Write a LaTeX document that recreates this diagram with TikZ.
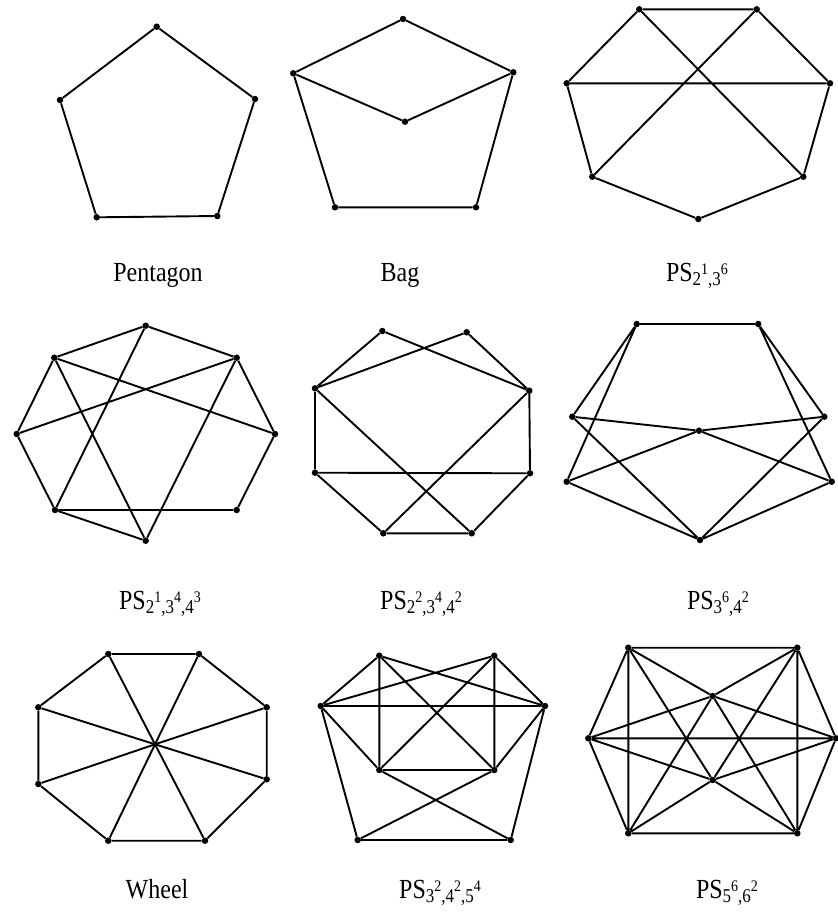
\documentclass[tikz,border=0pt]{standalone}
\usepackage{fontspec}
\setmainfont{Liberation Serif}
\begin{document}
\begin{tikzpicture}[x=1pt,y=-1pt,
  v/.style={circle,fill=black,inner sep=0pt,minimum size=6.5pt},
  e/.style={line width=1.9pt,line join=round},
  lab/.style={font=\fontsize{24}{28}\selectfont,anchor=base,inner sep=0pt}]
\useasboundingbox (0,0) rectangle (838,913);
\newcommand{\sbsp}[2]{\raisebox{-4pt}{\fontsize{17}{18}\selectfont #1}\raisebox{6pt}{\fontsize{14}{15}\selectfont #2}}
\newcommand{\tallt}[1]{\scalebox{1}[1.15]{#1}}

% ---------- Pentagon
\node[v] (pa) at (156.7,26.7) {};
\node[v] (pb) at (255,99) {};
\node[v] (pc) at (217.3,216) {};
\node[v] (pd) at (96.7,217.3) {};
\node[v] (pe) at (60,100) {};
\draw[e] (pa)--(pb)--(pc)--(pd)--(pe)--(pa);
\node[lab] (lpent) at (158,281) {\tallt{Pentagon}};

% ---------- Bag
\node[v] (ba) at (403,19) {};
\node[v] (bb) at (513.3,72.3) {};
\node[v] (bc) at (405,121.7) {};
\node[v] (bd) at (293.3,73.3) {};
\node[v] (be) at (335,207.3) {};
\node[v] (bf) at (476,207.3) {};
\draw[e] (ba)--(bb)--(bc)--(bd)--(ba);
\draw[e] (bd)--(be)--(bf)--(bb);
\node[lab] (lbag) at (400,281) {\tallt{Bag}};

% ---------- PS2^1,3^6
\node[v] (ca) at (639.3,9.3) {};
\node[v] (cb) at (756.7,9.3) {};
\node[v] (cl) at (566.7,83.3) {};
\node[v] (cr) at (830,83.3) {};
\node[v] (cbl) at (592.3,176.7) {};
\node[v] (cbr) at (803.3,176.7) {};
\node[v] (cbo) at (698.3,219) {};
\draw[e] (ca)--(cb) (ca)--(cl) (cb)--(cr) (cl)--(cr) (ca)--(cbr) (cb)--(cbl)
  (cl)--(cbl) (cr)--(cbr) (cbl)--(cbo) (cbo)--(cbr);
\node[lab] (lc) at (697,281) {\tallt{PS\sbsp{2}{1}\sbsp{,3}{6}}};

% ---------- PS2^1,3^4,4^3
\node[v] (dt) at (145.7,325.7) {};
\node[v] (dul) at (54.3,357.7) {};
\node[v] (dur) at (236.7,357.7) {};
\node[v] (dl) at (16.7,434) {};
\node[v] (dr) at (275,434) {};
\node[v] (dll) at (55,510) {};
\node[v] (dlr) at (236.7,510) {};
\node[v] (db) at (145.7,540.7) {};
\draw[e] (dt)--(dul) (dt)--(dur) (dul)--(dl) (dur)--(dr) (dl)--(dll) (dr)--(dlr)
  (dll)--(dlr) (dll)--(db) (dul)--(dr) (dl)--(dur) (dt)--(dll) (dul)--(db) (dur)--(db);
\node[lab] (ld) at (160,609) {\tallt{PS\sbsp{2}{1}\sbsp{,3}{4}\sbsp{,4}{3}}};

% ---------- PS2^2,3^4,4^2
\node[v] (ftl) at (382.3,331) {};
\node[v] (ftr) at (466.7,332.3) {};
\node[v] (fl) at (315,388.3) {};
\node[v] (fr) at (529.3,390.7) {};
\node[v] (fll) at (315,472.7) {};
\node[v] (flr) at (530,473.3) {};
\node[v] (fbl) at (383.3,533.3) {};
\node[v] (fbr) at (471.7,533.3) {};
\draw[e] (ftl)--(fl) (ftl)--(fr) (ftr)--(fl) (ftr)--(fr) (fl)--(fll) (fr)--(flr)
  (fll)--(flr) (fll)--(fbl) (flr)--(fbr) (fbl)--(fbr) (fl)--(fbr) (fr)--(fbl);
\node[lab] (lf) at (421,609) {\tallt{PS\sbsp{2}{2}\sbsp{,3}{4}\sbsp{,4}{2}}};

% ---------- PS3^6,4^2
\node[v] (gtl) at (636.7,324) {};
\node[v] (gtr) at (758.3,324) {};
\node[v] (gml) at (572.3,416.7) {};
\node[v] (gmr) at (824.3,416.7) {};
\node[v] (gc) at (699,430.7) {};
\node[v] (gll) at (566.7,481.7) {};
\node[v] (glr) at (831.7,481.7) {};
\node[v] (gb) at (700,540) {};
\draw[e] (gtl)--(gtr) (gtl)--(gml) (gtl)--(gll) (gtr)--(gmr) (gtr)--(glr)
  (gml)--(gc) (gmr)--(gc) (gc)--(gll) (gc)--(glr) (gml)--(gb) (gmr)--(gb)
  (gll)--(gb) (glr)--(gb);
\node[lab] (lg) at (718,609) {\tallt{PS\sbsp{3}{6}\sbsp{,4}{2}}};

% ---------- Wheel
\node[v] (wtl) at (108.3,654) {};
\node[v] (wtr) at (199,654) {};
\node[v] (wur) at (266.7,707.3) {};
\node[v] (wlr) at (266.7,779.3) {};
\node[v] (wbr) at (205,840.7) {};
\node[v] (wbl) at (108.3,840.7) {};
\node[v] (wll) at (38.3,784) {};
\node[v] (wul) at (38.3,707.3) {};
\node[v,minimum size=4pt] (wc) at (155,744.3) {};
\draw[e] (wtl)--(wtr)--(wur)--(wlr)--(wbr)--(wbl)--(wll)--(wul)--(wtl);
\foreach \n in {wtl,wtr,wur,wlr,wbr,wbl,wll,wul} \draw[e] (wc.center)--(\n);
\node[lab] (lw) at (157,898) {\tallt{Wheel}};

% ---------- PS3^2,4^2,5^4
\node[v] (htl) at (379.3,655.7) {};
\node[v] (htr) at (494.3,655.7) {};
\node[v] (hl) at (320.7,706) {};
\node[v] (hr) at (545,706) {};
\node[v] (hil) at (379.3,770) {};
\node[v] (hir) at (494.3,770) {};
\node[v] (hbl) at (357.7,840) {};
\node[v] (hbr) at (510.7,840) {};
\draw[e] (htl)--(hl) (htr)--(hr) (htl)--(hil) (htr)--(hir) (htl)--(hr) (htr)--(hl)
  (htl)--(hir) (htr)--(hil) (hl)--(hr) (hl)--(hil) (hr)--(hir) (hil)--(hir)
  (hl)--(hbl) (hr)--(hbr) (hbl)--(hbr) (hil)--(hbr) (hir)--(hbl);
\node[lab] (lh) at (440,898) {\tallt{PS\sbsp{3}{2}\sbsp{,4}{2}\sbsp{,5}{4}}};

% ---------- PS5^6,6^2
\node[v] (ktl) at (628.3,647.7) {};
\node[v] (ktr) at (797.3,647.7) {};
\node[v] (kl) at (588.3,738.3) {};
\node[v] (kr) at (836,738.3) {};
\node[v] (kct) at (712.7,696) {};
\node[v] (kcb) at (712.7,780) {};
\node[v] (kbl) at (628.3,833.3) {};
\node[v] (kbr) at (797.3,833.3) {};
\draw[e] (ktl)--(ktr) (kbl)--(kbr) (ktl)--(kbl) (ktr)--(kbr)
  (ktl)--(kl) (ktr)--(kr) (kbl)--(kl) (kbr)--(kr) (kl)--(kr)
  (ktl)--(kct) (ktr)--(kct) (kbl)--(kcb) (kbr)--(kcb)
  (kl)--(kct) (kr)--(kct) (kl)--(kcb) (kr)--(kcb)
  (ktl)--(kcb) (ktr)--(kcb) (kbl)--(kct) (kbr)--(kct);
\node[lab] (lk) at (727,898) {\tallt{PS\sbsp{5}{6}\sbsp{,6}{2}}};
\end{tikzpicture}
\end{document}
